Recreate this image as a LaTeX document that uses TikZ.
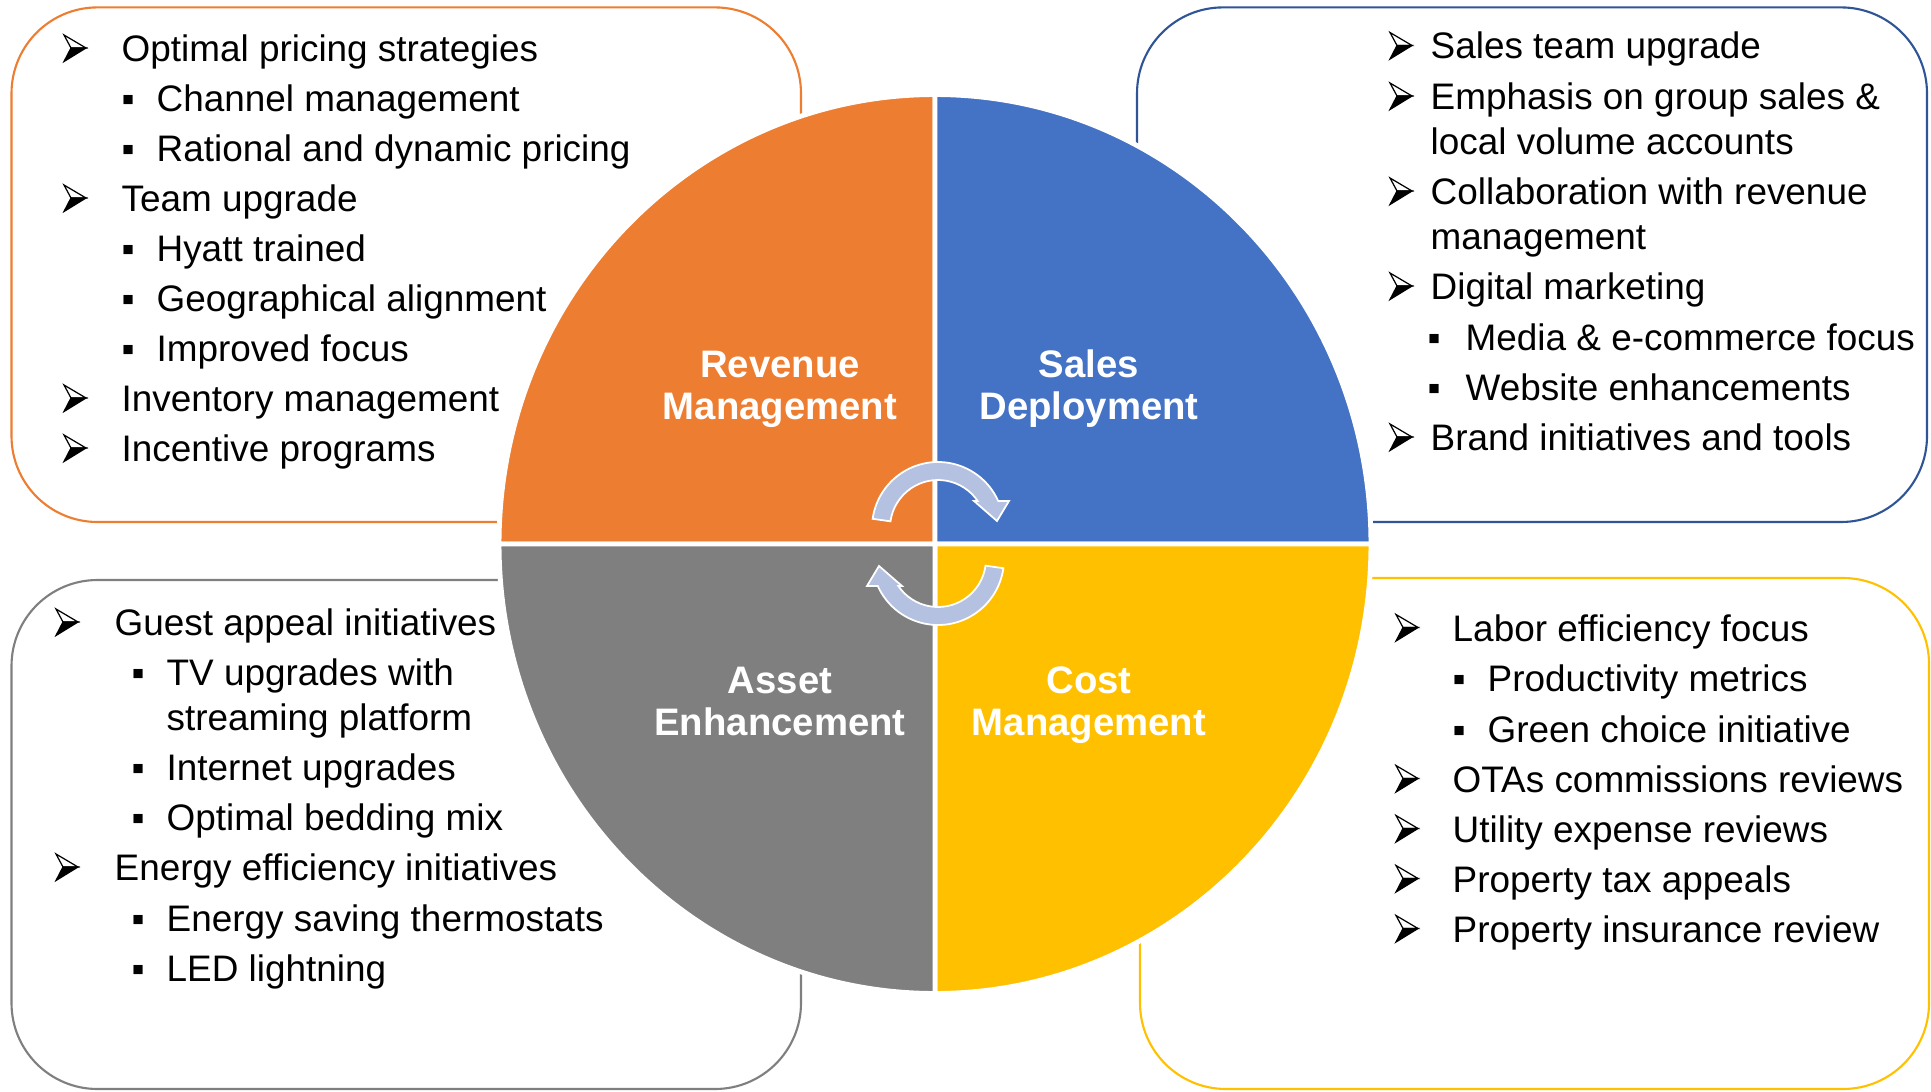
\documentclass[tikz,border=0pt]{standalone}
\usepackage{fontspec}
\setmainfont{Liberation Sans}

\definecolor{revenue}{HTML}{ED7D31}
\definecolor{sales}{HTML}{4472C4}
\definecolor{salesline}{HTML}{2F5597}
\definecolor{asset}{HTML}{7F7F7F}
\definecolor{cost}{HTML}{FFC000}
\definecolor{turn}{HTML}{B4C1E1}

% square bullet hangs left of the text start
\newcommand{\submark}[1]{\llap{\makebox[#1][l]{▪}}}

% 3d arrowhead bullet, origin at its lower back corner
\tikzset{
  pointer/.pic={
    \filldraw [fill=white, line width=0.35pt, line join=miter]
      (0,0.265) -- (0.22,0.135) -- (0.07,0.135) -- cycle;
    \filldraw [line width=0.35pt, line join=miter]
      (0.07,0.135) -- (0.22,0.135) -- (0,0) -- cycle;
  }
}

\begin{document}
\begin{tikzpicture}[
  frame/.style={line width=0.6pt, rounded corners=0.86cm, fill=white},
  quarter/.style={draw=white, line width=1.4pt},
  title/.style={anchor=base, text=white, align=center, inner sep=0pt,
    font=\bfseries\fontsize{10.9}{11.7}\selectfont},
  entry/.style={anchor=base west, inner sep=0pt,
    font=\fontsize{10.5}{12.6}\selectfont},
  turnarrow/.style={fill=turn, draw=white, line width=0.5pt}
]
   \useasboundingbox (0,0) rectangle (19.31,-10.91);

   % the four list frames
   \draw [frame, draw=revenue] (0.115,-0.074) rectangle (8.01,-5.22);
   \draw [frame, draw=salesline] (11.37,-0.074) rectangle (19.27,-5.22);
   \draw [frame, draw=asset] (0.115,-5.80) rectangle (8.01,-10.89);
   \draw [frame, draw=cost] (11.40,-5.78) rectangle (19.29,-10.89);

   % the disc, cut in quarters
   \coordinate (hub) at (9.35,-5.44);
   \path [quarter, fill=revenue] (hub) -- ++(-4.36,0)
      arc [start angle=180, end angle=90, x radius=4.36, y radius=4.495] -- cycle;
   \path [quarter, fill=sales] (hub) -- ++(0,4.495)
      arc [start angle=90, end angle=0, x radius=4.36, y radius=4.495] -- cycle;
   \path [quarter, fill=cost] (hub) -- ++(4.36,0)
      arc [start angle=0, end angle=-90, x radius=4.36, y radius=4.495] -- cycle;
   \path [quarter, fill=asset] (hub) -- ++(0,-4.495)
      arc [start angle=-90, end angle=-180, x radius=4.36, y radius=4.495] -- cycle;

   % base sits on the second line
   \node (Revenue-Management) at (7.80,-4.19) [title] {Revenue\\Management};
   \node (Sales-Deployment) at (10.89,-4.19) [title] {Sales\\Deployment};
   \node (Asset-Enhancement) at (7.80,-7.35) [title] {Asset\\Enhancement};
   \node (Cost-Management) at (10.89,-7.35) [title] {Cost\\Management};

   % round arrows in the middle
   \coordinate (upper-turn) at (9.38,-5.28);
   \coordinate (lower-turn) at (9.38,-5.59);
   \draw [turnarrow, shift={(upper-turn)}] (172:0.66)
      arc [start angle=172, end angle=24.1, radius=0.66]
      -- (0.71,0.27) -- (0.59,0.07) -- (0.36,0.27) -- (34.2:0.48)
      arc [start angle=34.2, end angle=172, radius=0.48] -- cycle;
   \draw [turnarrow, shift={(lower-turn)}] (-8:0.66)
      arc [start angle=-8, end angle=-155.9, radius=0.66]
      -- (-0.71,-0.27) -- (-0.59,-0.07) -- (-0.36,-0.27) -- (-145.8:0.48)
      arc [start angle=-145.8, end angle=-8, radius=0.48] -- cycle;

   % revenue management list
   \node (pricing) at (1.21,-0.615) [entry] {Optimal pricing strategies};
   \node (channel) at (1.56,-1.115) [entry] {\submark{0.35cm}Channel management};
   \node (rational) at (1.56,-1.615) [entry] {\submark{0.35cm}Rational and dynamic pricing};
   \node (team) at (1.21,-2.115) [entry] {Team upgrade};
   \node (hyatt) at (1.56,-2.615) [entry] {\submark{0.35cm}Hyatt trained};
   \node (geo) at (1.56,-3.115) [entry] {\submark{0.35cm}Geographical alignment};
   \node (focus) at (1.56,-3.615) [entry] {\submark{0.35cm}Improved focus};
   \node (inventory) at (1.21,-4.115) [entry] {Inventory management};
   \node (incentive) at (1.21,-4.615) [entry] {Incentive programs};

   % sales deployment list
   \node (sales-team) at (14.30,-0.59) [entry] {Sales team upgrade};
   \node (emphasis) at (14.30,-1.095) [entry] {Emphasis on group sales \&};
   \node (emphasis-2) at (14.30,-1.54) [entry] {local volume accounts};
   \node (collab) at (14.30,-2.045) [entry] {Collaboration with revenue};
   \node (collab-2) at (14.30,-2.49) [entry] {management};
   \node (digital) at (14.30,-2.995) [entry] {Digital marketing};
   \node (media) at (14.65,-3.50) [entry] {\submark{0.38cm}Media \& e-commerce focus};
   \node (website) at (14.65,-4.00) [entry] {\submark{0.38cm}Website enhancements};
   \node (brand) at (14.30,-4.505) [entry] {Brand initiatives and tools};

   % asset enhancement list
   \node (guest) at (1.14,-6.355) [entry] {Guest appeal initiatives};
   \node (tv) at (1.66,-6.855) [entry] {\submark{0.35cm}TV upgrades with};
   \node (tv-2) at (1.66,-7.30) [entry] {streaming platform};
   \node (internet) at (1.66,-7.805) [entry] {\submark{0.35cm}Internet upgrades};
   \node (bedding) at (1.66,-8.305) [entry] {\submark{0.35cm}Optimal bedding mix};
   \node (energy) at (1.14,-8.805) [entry] {Energy efficiency initiatives};
   \node (thermostats) at (1.66,-9.31) [entry] {\submark{0.35cm}Energy saving thermostats};
   \node (led) at (1.66,-9.81) [entry] {\submark{0.35cm}LED lightning};

   % cost management list
   \node (labor) at (14.52,-6.41) [entry] {Labor efficiency focus};
   \node (productivity) at (14.87,-6.91) [entry] {\submark{0.35cm}Productivity metrics};
   \node (green) at (14.87,-7.42) [entry] {\submark{0.35cm}Green choice initiative};
   \node (otas) at (14.52,-7.92) [entry] {OTAs commissions reviews};
   \node (utility) at (14.52,-8.42) [entry] {Utility expense reviews};
   \node (tax) at (14.52,-8.92) [entry] {Property tax appeals};
   \node (insurance) at (14.52,-9.42) [entry] {Property insurance review};

   % arrowhead bullets in front of the top level entries
   \foreach \n in {pricing, team, inventory, incentive}
      \pic at ([xshift=-0.57cm]\n.base west) {pointer};
   \foreach \n in {sales-team, emphasis, collab, digital, brand}
      \pic at ([xshift=-0.40cm]\n.base west) {pointer};
   \foreach \n in {guest, energy}
      \pic at ([xshift=-0.58cm]\n.base west) {pointer};
   \foreach \n in {labor, otas, utility, tax, insurance}
      \pic at ([xshift=-0.56cm]\n.base west) {pointer};

\end{tikzpicture}
\end{document}
